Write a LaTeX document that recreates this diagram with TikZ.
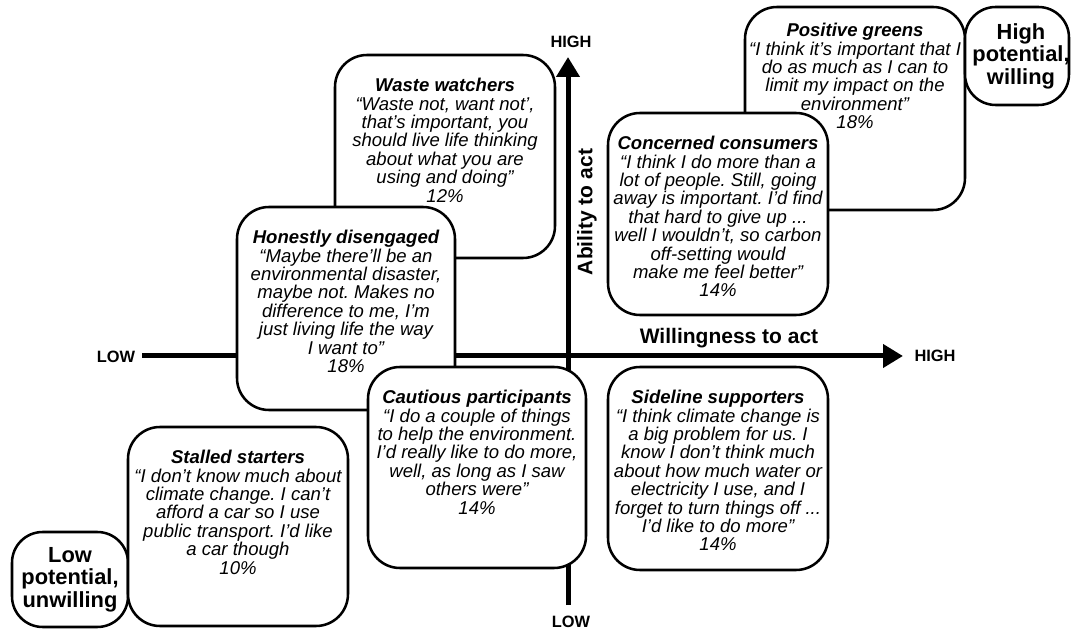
\documentclass[tikz,border=0pt]{standalone}
\usepackage{fontspec}
\setmainfont{Liberation Sans}
\usetikzlibrary{arrows.meta}
\frenchspacing
\begin{document}
\begin{tikzpicture}[x=0.75pt,y=-0.75pt,
  box/.style={draw=black, line width=1.9pt, fill=white, rounded corners=24pt, inner sep=0pt, outer sep=0pt},
  quote/.style={anchor=north, align=center, inner sep=0pt, font=\fontsize{13.9}{13.8}\selectfont\itshape},
  big/.style={align=center, inner sep=0pt, font=\fontsize{16.4}{16.9}\selectfont\bfseries},
  axlabel/.style={inner sep=0pt, font=\fontsize{15.75}{16.9}\selectfont\bfseries},
  tick/.style={inner sep=0pt, font=\fontsize{12.3}{14}\selectfont\bfseries},
  axis/.style={line width=3.75pt, -{Triangle[length=15pt,width=17pt]}}
]
\useasboundingbox (0,0) rectangle (1071,630);

% axes
\coordinate (xl) at (142,356);
\coordinate (xr) at (903,356);
\coordinate (yb) at (568,605);
\coordinate (yt) at (568,57);
\draw[axis] (xl) -- (xr);
\draw[axis] (yb) -- (yt);
\node[tick] (lowx) at (116,357) {LOW};
\node[tick] (highx) at (935,356) {HIGH};
\node[tick] (highy) at (571,42) {HIGH};
\node[tick] (lowy) at (571,622) {LOW};
\node[axlabel] (will) at (729,338) {Willingness to act};
\node[axlabel, rotate=90] (abil) at (587,212) {Ability to act};

% boxes
\node[box, minimum width=165pt, minimum height=152.25pt] (waste) at (445,156.5) {};
\node[quote] (wastet) at ([yshift=-17.25pt]waste.north) {\textbf{Waste watchers}\\“Waste not, want not’,\\that’s important, you\\should live life thinking\\about what you are\\using and doing”\\12\%};

\node[box, minimum width=163.5pt, minimum height=152.25pt] (honest) at (346,308.5) {};
\node[quote] (honestt) at ([yshift=-17.25pt]honest.north) {\textbf{Honestly disengaged}\\“Maybe there’ll be an\\environmental disaster,\\maybe not. Makes no\\difference to me, I’m\\just living life the way\\I want to”\\18\%};

\node[box, minimum width=163.5pt, minimum height=150.75pt] (caut) at (477,467.5) {};
\node[quote] (cautt) at ([yshift=-17.25pt]caut.north) {\textbf{Cautious participants}\\“I do a couple of things\\to help the environment.\\I’d really like to do more,\\well, as long as I saw\\others were”\\14\%};

\node[box, minimum width=87pt, minimum height=71.25pt, rounded corners=23pt] (lowp) at (70,579.5) {};
\node[big] (lowpt) at (lowp.center) {Low\\potential,\\unwilling};

\node[box, minimum width=165pt, minimum height=149.25pt] (stall) at (238,526.5) {};
\node[quote] (stallt) at ([yshift=-17.25pt]stall.north) {\textbf{Stalled starters}\\“I don’t know much about\\climate change. I can’t\\afford a car so I use\\public transport. I’d like\\a car though\\10\%};

\node[box, minimum width=165pt, minimum height=152.25pt] (side) at (718,468.5) {};
\node[quote] (sidet) at ([yshift=-17.25pt]side.north) {\textbf{Sideline supporters}\\“I think climate change is\\a big problem for us. I\\know I don’t think much\\about how much water or\\electricity I use, and I\\forget to turn things off ...\\I’d like to do more”\\14\%};

\node[box, minimum width=165pt, minimum height=152.25pt] (pos) at (855,108.5) {};
\node[quote] (post) at ([yshift=-12pt]pos.north) {\textbf{Positive greens}\\“I think it’s important that I\\do as much as I can to\\limit my impact on the\\environment”\\18\%};

\node[box, minimum width=165pt, minimum height=151.5pt] (conc) at (718,214) {};
\node[quote] (conct) at ([yshift=-17.25pt]conc.north) {\textbf{Concerned consumers}\\“I think I do more than a\\lot of people. Still, going\\away is important. I’d find\\that hard to give up ...\\well I wouldn’t, so carbon\\off-setting would\\make me feel better”\\14\%};

\node[box, minimum width=78pt, minimum height=73.5pt, rounded corners=23pt] (highp) at (1017,56) {};
\node[big] (highpt) at ([xshift=3pt]highp.center) {High\\potential,\\willing};
\end{tikzpicture}
\end{document}
